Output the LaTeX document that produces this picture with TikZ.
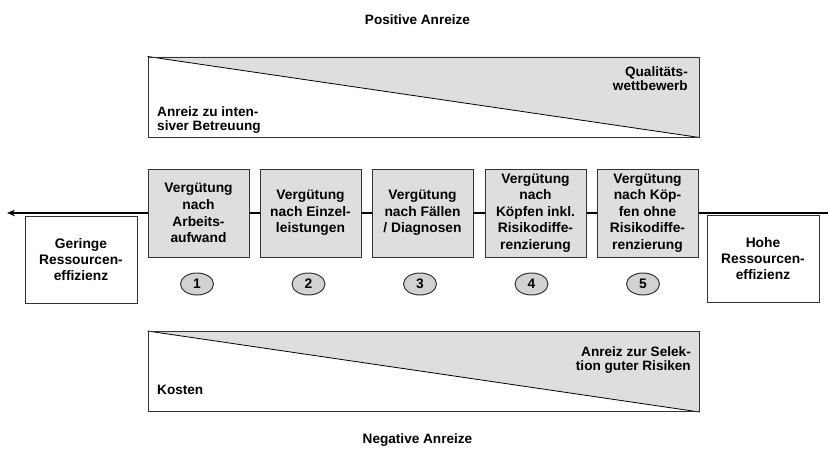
\documentclass[tikz,border=0pt]{standalone}
\usepackage{fontspec}
\setmainfont{Liberation Sans}
\usetikzlibrary{arrows.meta,shapes.geometric}
\definecolor{boxgray}{HTML}{DEDEDF}
\definecolor{numgray}{HTML}{D2D2D2}
\definecolor{edge}{HTML}{333333}
\begin{document}
\begin{tikzpicture}[x=1pt,y=-1pt,
  lbl/.style={font=\fontsize{13.6}{14.2}\selectfont\bfseries, inner sep=0pt},
  method/.style={draw=edge, line width=1pt, fill=boxgray, minimum width=101pt, minimum height=88pt, inner sep=0pt, align=center, font=\fontsize{13.8}{16.6}\selectfont\bfseries},
  endbox/.style={draw=edge, line width=1pt, fill=white, minimum width=112pt, minimum height=87pt, inner sep=0pt, align=center, font=\fontsize{13.8}{15.8}\selectfont\bfseries},
  panel/.style={draw=edge, line width=1pt, minimum width=551pt, minimum height=80pt, inner sep=0pt},
  num/.style={ellipse, draw=edge, line width=1pt, fill=numgray, minimum width=33pt, minimum height=22pt, inner sep=0pt, font=\fontsize{13.8}{14}\selectfont\bfseries},
  mainline/.style={line width=2pt, -{Stealth[length=8pt,width=6.5pt]}}]
\path[use as bounding box] (0,0) rectangle (828,448);

% panels
\node[panel] (toppanel) at (423.5,97) {};
\fill[boxgray] (toppanel.north west) -- (toppanel.north east) -- (toppanel.south east) -- cycle;
\draw[line width=0.8pt] (toppanel.north west) -- (toppanel.south east);
\node[panel] (toppanelb) at (423.5,97) {};

\node[panel] (botpanel) at (423.5,371.5) {};
\fill[boxgray] (botpanel.north west) -- (botpanel.north east) -- (botpanel.south east) -- cycle;
\draw[line width=0.8pt] (botpanel.north west) -- (botpanel.south east);
\node[panel] (botpanelb) at (423.5,371.5) {};

% panel texts
\node[lbl, align=right, anchor=north east] (qual) at (688,66) {Qualitäts-\\wettbewerb};
\node[lbl, align=left, anchor=north west] (intens) at (157,106) {Anreiz zu inten-\\siver Betreuung};
\node[lbl, align=right, anchor=north east] (selek) at (691,346) {Anreiz zur Selek-\\tion guter Risiken};
\node[lbl, anchor=base west] (kosten) at (157,394) {Kosten};
\node[lbl, anchor=base] (pos) at (417.5,24) {Positive Anreize};
\node[lbl, anchor=base] (neg) at (417.5,443) {Negative Anreize};

% main arrow
\coordinate (aright) at (830,213);
\coordinate (aleft) at (7,213);
\draw[mainline] (aright) -- (aleft);

% end boxes
\node[endbox] (low) at (81,259.5) {Geringe\\Ressourcen-\\effizienz};
\node[endbox] (high) at (763,258.5) {Hohe\\Ressourcen-\\effizienz};

% method boxes
\node[method] (m1) at (198.5,213) {Vergütung\\nach\\Arbeits-\\aufwand};
\node[method] (m2) at (310.5,213) {Vergütung\\nach Einzel-\\leistungen};
\node[method] (m3) at (422.5,213) {Vergütung\\nach Fällen\\/ Diagnosen};
\node[method] (m4) at (535.5,213) {Vergütung\\nach\\Köpfen inkl.\\Risikodiffe-\\renzierung};
\node[method] (m5) at (647.5,213) {Vergütung\\nach Köp-\\fen ohne\\Risikodiffe-\\renzierung};

% numbers
\node[num] (n1) at (197,284) {1};
\node[num] (n2) at (308.5,284) {2};
\node[num] (n3) at (420,284) {3};
\node[num] (n4) at (531.5,284) {4};
\node[num] (n5) at (643,284) {5};
\end{tikzpicture}
\end{document}
